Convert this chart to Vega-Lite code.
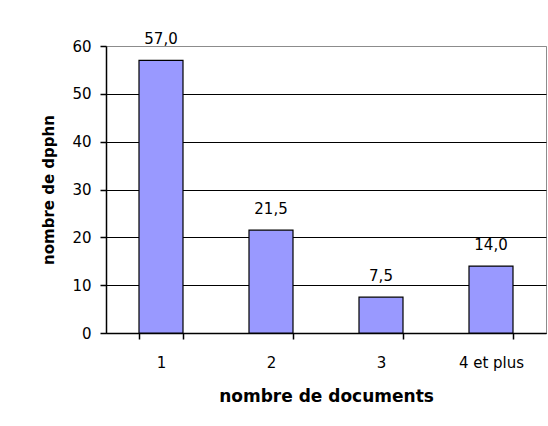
{
  "$schema": "https://vega.github.io/schema/vega-lite/v6.json",
  "autosize": {"type": "none"},
  "padding": {"left": 106, "top": 46, "right": 2, "bottom": 93},
  "width": 440,
  "height": 287,
  "background": "white",
  "data": {"values": [
    {"docs": "1", "dpphn": 57.0},
    {"docs": "2", "dpphn": 21.5},
    {"docs": "3", "dpphn": 7.5},
    {"docs": "4 et plus", "dpphn": 14.0}
  ]},
  "encoding": {
    "x": {"field": "docs", "type": "nominal", "sort": null,
      "scale": {"paddingInner": 0.6, "paddingOuter": 0.3},
      "axis": {"title": "nombre de documents", "labelAngle": 0, "tickBand": "extent",
        "tickSize": 6, "labelPadding": 16, "titlePadding": 18, "titleFontSize": 17, "domainColor": "black",
        "tickColor": "black", "domainWidth": 1.5, "tickWidth": 1.5}},
    "y": {"field": "dpphn", "type": "quantitative",
      "scale": {"domain": [0, 60], "nice": false},
      "axis": {"title": "nombre de dpphn", "values": [0, 10, 20, 30, 40, 50, 60],
        "tickSize": 6, "labelPadding": 9, "titlePadding": 15, "titleFontSize": 15, "grid": true,
        "gridColor": {"condition": {"test": "datum.value == 60", "value": "#8c8c8c"}, "value": "black"},
        "domainColor": "black", "tickColor": "black", "domainWidth": 1.5, "tickWidth": 1.5}}
  },
  "layer": [
    {"mark": {"type": "bar", "fill": "#9999ff", "stroke": "black", "strokeWidth": 1.2}},
    {"mark": {"type": "text", "baseline": "alphabetic", "dy": -16, "font": "DejaVu Sans", "fontSize": 15, "color": "black"},
      "encoding": {"text": {"field": "dpphn", "type": "quantitative", "format": ".1f"}}}
  ],
  "config": {
    "locale": {"number": {"decimal": ",", "thousands": " ", "grouping": [3], "currency": ["", " €"]}},
    "view": {"stroke": "#8c8c8c", "strokeWidth": 1},
    "axis": {"labelFont": "DejaVu Sans", "labelFontSize": 15, "labelColor": "black",
      "titleFont": "DejaVu Sans", "titleFontWeight": "bold", "titleColor": "black",
      "gridWidth": 1}
  }
}
